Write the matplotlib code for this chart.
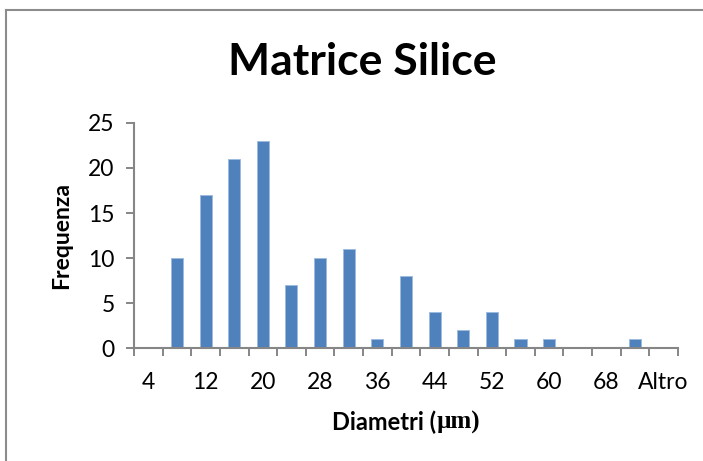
import matplotlib.pyplot as plt
import numpy as np
from matplotlib.lines import Line2D

# classi del diametro (µm) e frequenze
classi = ['4', '8', '12', '16', '20', '24', '28', '32', '36', '40',
          '44', '48', '52', '56', '60', '64', '68', '72', 'Altro']
frequenze = [0, 10, 17, 21, 23, 7, 10, 11, 1, 8, 4, 2, 4, 1, 1, 0, 0, 1, 0]
etichette_y = [0, 5, 10, 15, 20, 25]

plt.rcParams['font.family'] = ['Lato', 'DejaVu Sans']

fig = plt.figure(figsize=(7.03, 4.61), dpi=100)
ax = fig.add_axes([0.1906, 0.2451, 0.7738, 0.4881])

x = np.arange(len(classi))
ax.bar(x, frequenze, width=0.42, color='#4F81BD', edgecolor='#9DBAE0', linewidth=0.7)

ax.set_xlim(-0.5, len(classi) - 0.5)
ax.set_ylim(0, 25)
ax.set_yticks(etichette_y)
ax.set_yticklabels([str(v) for v in etichette_y], fontsize=16.5)

# tacche sui bordi delle classi, etichette una sì e una no
ax.set_xticks(np.arange(len(classi) + 1) - 0.5)
ax.set_xticklabels([])
ax.set_xticks(x[::2], minor=True)
ax.set_xticklabels(classi[::2], minor=True, fontsize=16.5)
ax.tick_params(axis='x', which='major', length=6, width=1.4, color='#868686', direction='out')
ax.tick_params(axis='x', which='minor', length=0, pad=17)
ax.tick_params(axis='y', length=6, width=1.4, color='#868686', pad=8)

for s in ['top', 'right']:
    ax.spines[s].set_visible(False)
for s in ['left', 'bottom']:
    ax.spines[s].set_color('#868686')
    ax.spines[s].set_linewidth(1.5)

fig.text(0.515, 0.865, 'Matrice Silice', fontsize=32, fontweight='bold',
         ha='center', va='center')
fig.text(0.088, 0.49, 'Frequenza', fontsize=16.5, fontweight='bold',
         rotation=90, ha='center', va='center')

# titolo asse x: "µm" in carattere con grazie, centrato nel complesso
r = fig.canvas.get_renderer()
t1 = fig.text(0, 0.083, 'Diametri (', fontsize=17, fontweight='bold',
              ha='left', va='center')
t2 = fig.text(0, 0.083, 'µm)', fontsize=18, fontweight='bold',
              family='Liberation Serif', ha='left', va='center')
w1 = t1.get_window_extent(r).width / fig.bbox.width
w2 = t2.get_window_extent(r).width / fig.bbox.width
x0 = 0.578 - (w1 + w2) / 2
t1.set_x(x0)
t2.set_x(x0 + w1)

# cornice grigia
fig.add_artist(Line2D([0.0092, 0.0092], [0.0, 0.978], color='#8c8c8c', lw=1.5))
fig.add_artist(Line2D([0.0092, 1.0], [0.978, 0.978], color='#8c8c8c', lw=1.5))

fig.savefig('out.png', dpi=100)
